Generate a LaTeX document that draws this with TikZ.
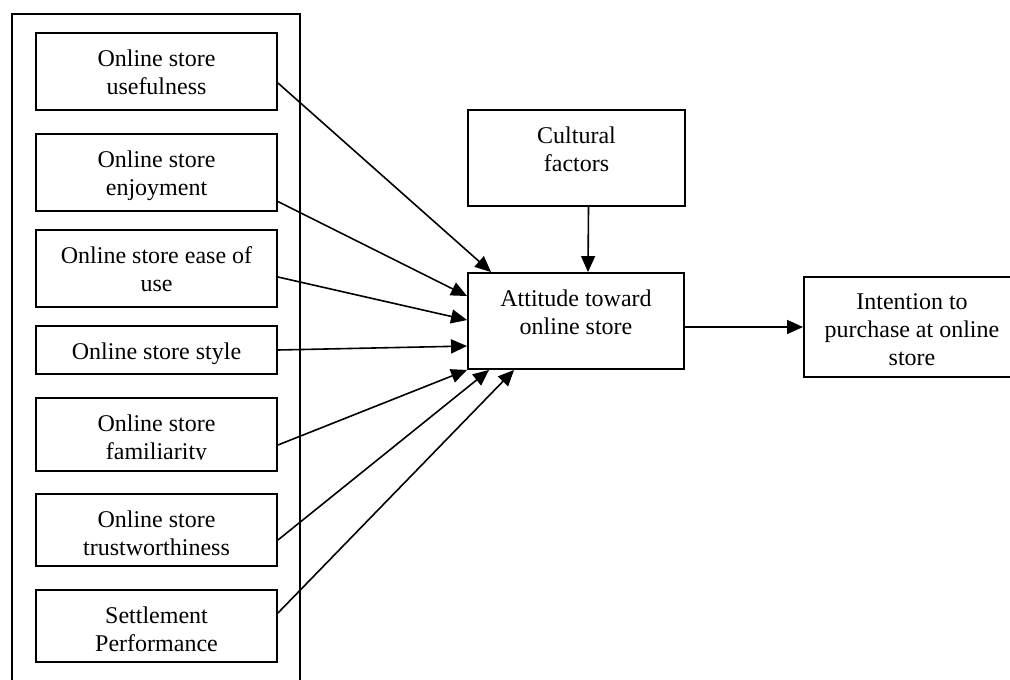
\documentclass[tikz,border=0pt]{standalone}
\usepackage{fontspec}
\setmainfont{Liberation Serif}
\usetikzlibrary{arrows.meta,calc,fit}
\begin{document}
\begin{tikzpicture}[x=0.5pt,y=-0.5pt,
  box/.style={draw, line width=0.95pt, inner sep=0pt, rectangle},
  txt/.style={align=center, inner sep=0pt, anchor=north, font=\fontsize{12}{14}\selectfont},
  arr/.style={line width=0.8pt, -{Triangle[length=8pt,width=7pt]}}]
\useasboundingbox (0,0) rectangle (1010,679);
% outer frame (open at the bottom of the page)
\node[box, fit={(12,14)(300,720)}] (outer) {};
% left boxes
\node[box, fit={(36,33)(277,110)}] (b1) {};
\node[txt] (t1) at ($(b1.north)+(0,17)$) {Online store\\usefulness};
\node[box, fit={(36,134)(277,211)}] (b2) {};
\node[txt] (t2) at ($(b2.north)+(0,17)$) {Online store\\enjoyment};
\node[box, fit={(36,230)(277,307)}] (b3) {};
\node[txt] (t3) at ($(b3.north)+(0,17)$) {Online store ease of\\use};
\node[box, fit={(36,326)(277,374)}] (b4) {};
\node[txt] (t4) at ($(b4.north)+(0,17)$) {Online store style};
\node[box, fit={(36,398)(277,471)}] (b5) {};
\begin{scope}
\clip (36,398) rectangle (277,459);
\node[txt] (t5) at ($(b5.north)+(0,17)$) {Online store\\familiarity};
\end{scope}
\node[box, fit={(36,494)(277,566)}] (b6) {};
\node[txt] (t6) at ($(b6.north)+(0,17)$) {Online store\\trustworthiness};
\node[box, fit={(36,590)(277,662)}] (b7) {};
\node[txt] (t7) at ($(b7.north)+(0,17)$) {Settlement\\Performance};
% right boxes
\node[box, fit={(468,110)(685,206)}] (cult) {};
\node[txt] (tc) at ($(cult.north)+(0,17)$) {Cultural\\factors};
\node[box, fit={(468,273)(684,369)}] (att) {};
\node[txt] (ta) at ($(att.north)+(0,17)$) {Attitude toward\\online store};
\node[box, fit={(804,277)(1020,377)}] (int) {};
\node[txt] (ti) at ($(int.north)+(0,17)$) {Intention to\\purchase at online\\store};
% connectors
\draw[arr] ($(b1.east)+(0,11.5)$) -- ($(att.north west)+(24,0)$);
\draw[arr] ($(b2.east)+(0,29)$) -- ($(att.north west)+(0,24)$);
\draw[arr] ($(b3.east)+(0,8.5)$) -- ($(att.north west)+(0,48)$);
\draw[arr] (b4.east) -- ($(att.north west)+(0,74)$);
\draw[arr] ($(b5.east)+(0,10.5)$) -- (att.south west);
\draw[arr] ($(b6.east)+(0,10)$) -- ($(att.south west)+(22,0)$);
\draw[arr] ($(b7.east)+(0,-13)$) -- ($(att.south west)+(47,0)$);
\draw[arr] ($(cult.south)+(12,0)$) -- ($(att.north)+(12,0)$);
\draw[arr] (att.east |- int.west) -- (int.west);
\end{tikzpicture}
\end{document}
